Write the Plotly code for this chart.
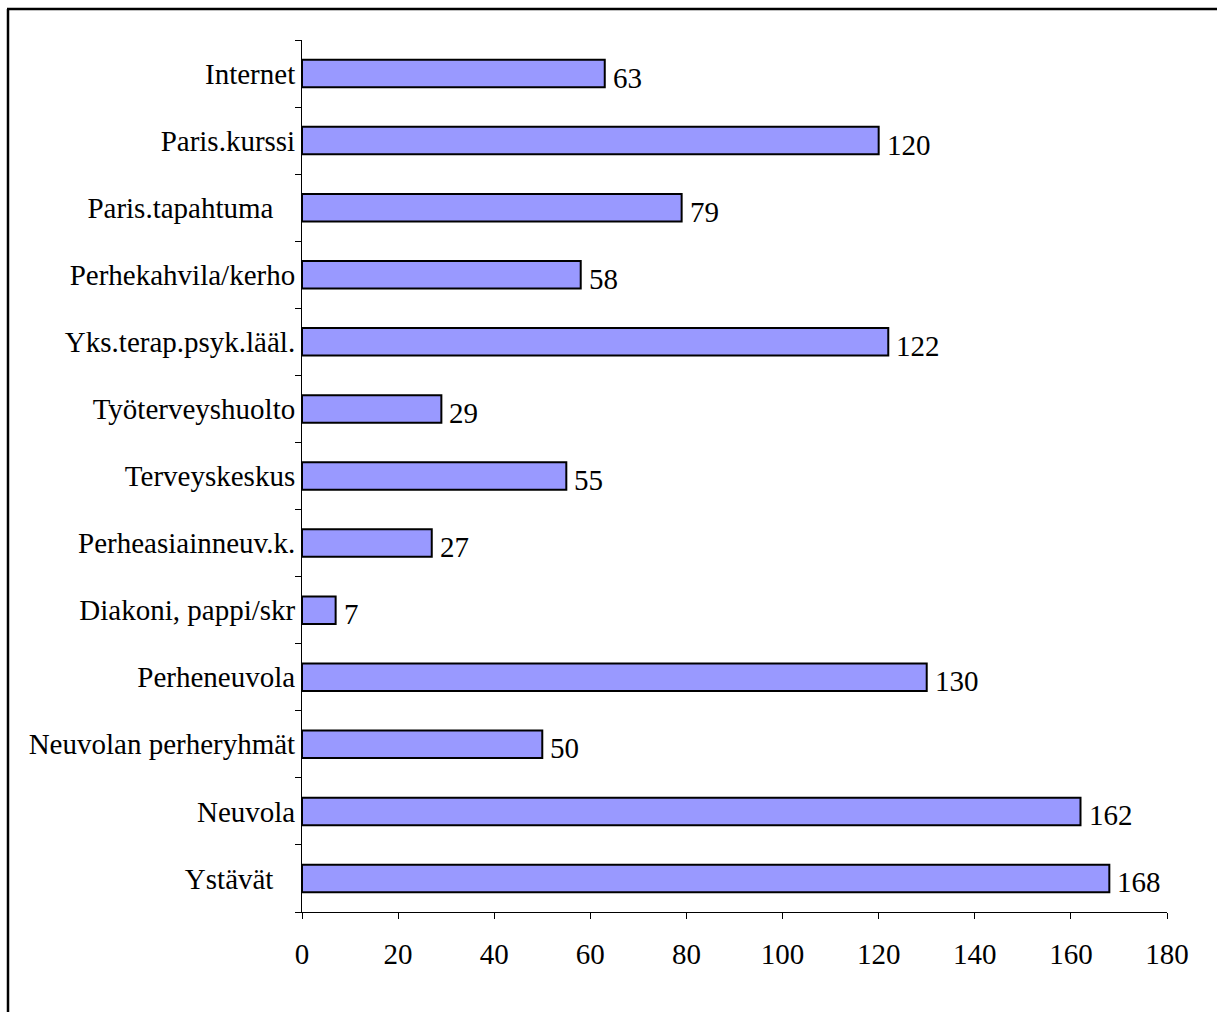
import plotly.graph_objects as go

# Categories from bottom to top, as they appear on the vertical axis
categories = [
    "Ystävät\u00a0\u00a0\u00a0",
    "Neuvola",
    "Neuvolan perheryhmät",
    "Perheneuvola",
    "Diakoni, pappi/skr",
    "Perheasiainneuv.k.",
    "Terveyskeskus",
    "Työterveyshuolto",
    "Yks.terap.psyk.lääl.",
    "Perhekahvila/kerho",
    "Paris.tapahtuma\u00a0\u00a0\u00a0",
    "Paris.kurssi",
    "Internet",
]
values = [168, 162, 50, 130, 7, 27, 55, 29, 122, 58, 79, 120, 63]
x_ticks = [0, 20, 40, 60, 80, 100, 120, 140, 160, 180]

FONT = "Liberation Serif, Times New Roman, serif"
FS = 29
W, H = 1217, 1012
L, R, T, B = 302, 50, 40, 100
pw, ph = W - L - R, H - T - B

fig = go.Figure()
fig.add_trace(go.Bar(
    x=values,
    y=categories,
    orientation="h",
    width=0.41,
    marker=dict(color="#9999FF", line=dict(color="black", width=2)),
    hoverinfo="x+y",
))

# Value labels just past the end of each bar
for c, v in zip(categories, values):
    fig.add_annotation(
        x=v, y=c, text=str(v), showarrow=False,
        xanchor="left", yanchor="middle", xshift=6, yshift=-4,
        font=dict(family=FONT, size=FS, color="black"),
    )

# Frame around the chart (left and top edges)
def px_x(p):
    return (p - L) / pw

def px_y(p):
    return (H - B - p) / ph

fig.add_shape(type="line", xref="paper", yref="paper",
              x0=px_x(8), x1=px_x(8), y0=px_y(9), y1=px_y(1020),
              line=dict(color="black", width=2.5))
fig.add_shape(type="line", xref="paper", yref="paper",
              x0=px_x(7), x1=px_x(1225), y0=px_y(9), y1=px_y(9),
              line=dict(color="black", width=2.5))

fig.update_layout(
    width=W, height=H,
    margin=dict(l=L, r=R, t=T, b=B, pad=0),
    paper_bgcolor="white", plot_bgcolor="white",
    showlegend=False,
    bargap=0.59,
    font=dict(family=FONT, size=FS, color="black"),
)
fig.update_xaxes(
    range=[0, 180], tickvals=x_ticks, ticktext=[str(t) for t in x_ticks],
    showgrid=False, zeroline=False,
    showline=True, linecolor="black", linewidth=1,
    ticks="outside", ticklen=6, tickcolor="black", tickwidth=1,
    ticklabelstandoff=10,
    tickfont=dict(family=FONT, size=FS, color="black"),
)
fig.update_yaxes(
    type="category", categoryorder="array", categoryarray=categories,
    range=[-0.5, len(categories) - 0.5],
    showgrid=False, zeroline=False,
    showline=True, linecolor="black", linewidth=1,
    ticks="outside", ticklen=6, tickcolor="black", tickwidth=1,
    tickson="boundaries",
    ticklabelstandoff=0,
    tickfont=dict(family=FONT, size=FS, color="black"),
)

fig.write_html("out.html")
